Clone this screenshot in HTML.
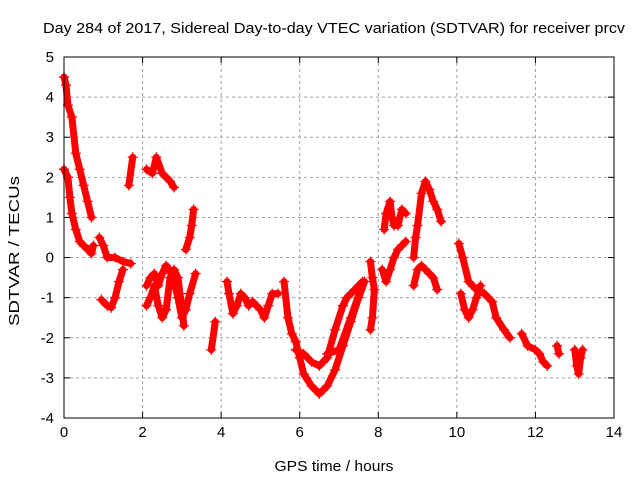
<!DOCTYPE html>
<html><head><meta charset="utf-8">
<style>
body{margin:0;background:#fff;}
svg{display:block;font-family:"Liberation Sans",sans-serif;}
</style></head>
<body>
<svg id="chart" width="640" height="480" viewBox="0 0 640 480">
<text x="334" y="33" font-size="15" text-anchor="middle" textLength="582" lengthAdjust="spacingAndGlyphs">Day 284 of 2017, Sidereal Day-to-day VTEC variation (SDTVAR) for receiver prcv</text>
<text x="334" y="471" font-size="15" text-anchor="middle" textLength="119" lengthAdjust="spacingAndGlyphs">GPS time / hours</text>
<text x="19" y="251" font-size="15" text-anchor="middle" textLength="150" lengthAdjust="spacingAndGlyphs" transform="rotate(-90 19 251)">SDTVAR / TECUs</text>
<g id="grid"></g><g id="ticks"></g><g id="marks"></g>
<rect x="64" y="57" width="550" height="361" fill="none" stroke="#000" stroke-width="1"/>
</svg>
<script>
const xTicks=[0,2,4,6,8,10,12,14];
const yTicks=[-4,-3,-2,-1,0,1,2,3,4,5];
const track1=[[0,4.5],[0.05,4.3],[0.1,3.8],[0.2,3.5],[0.3,2.6],[0.4,2.2],[0.5,1.8],[0.6,1.4],[0.7,1.0]];
const track2=[[0,2.2],[0.1,2.0],[0.15,1.5],[0.2,1.1],[0.3,0.7],[0.4,0.4],[0.5,0.3],[0.6,0.2],[0.7,0.1],[0.75,0.3]];
const track3=[[0.9,0.5],[1.0,0.3],[1.1,0.0],[1.3,0.0],[1.5,-0.1],[1.7,-0.15]];
const track4=[[0.95,-1.05],[1.1,-1.2],[1.2,-1.25],[1.3,-1.0],[1.4,-0.6],[1.5,-0.3]];
const track5=[[1.65,1.8],[1.75,2.5]];
const track6=[[2.1,2.2],[2.25,2.1],[2.35,2.5],[2.5,2.1],[2.7,1.9],[2.8,1.75]];
const track7=[[2.1,-0.7],[2.2,-0.5],[2.3,-0.4],[2.4,-0.7],[2.5,-0.4],[2.6,-0.2],[2.75,-0.4],[2.9,-1.0],[3.0,-1.5],[3.1,-1.3],[3.2,-0.9],[3.35,-0.4]];
const track8=[[2.1,-1.2],[2.2,-1.0],[2.3,-0.7],[2.4,-1.2],[2.5,-1.5],[2.6,-1.3],[2.7,-0.5],[2.8,-0.3],[2.9,-0.5],[2.95,-0.9],[3.0,-1.2],[3.05,-1.7]];
const track9=[[3.1,0.2],[3.2,0.5],[3.25,0.8],[3.3,1.2]];
const track10=[[3.75,-2.3],[3.85,-1.6]];
const track11=[[4.15,-0.6],[4.2,-0.9],[4.3,-1.4],[4.4,-1.2],[4.5,-0.9],[4.6,-1.0],[4.7,-1.2],[4.8,-1.1],[5.0,-1.3],[5.1,-1.5],[5.2,-1.2],[5.3,-0.9],[5.45,-0.9]];
const track12=[[5.6,-0.6],[5.7,-1.5],[5.8,-1.9],[5.9,-2.1],[6.0,-2.5],[6.1,-2.9],[6.3,-3.2],[6.5,-3.4],[6.7,-3.2],[6.9,-2.8],[7.1,-2.2],[7.3,-1.6],[7.5,-1.0],[7.65,-0.6]];
const track13=[[5.9,-2.3],[6.1,-2.4],[6.3,-2.6],[6.5,-2.7],[6.7,-2.5],[6.9,-1.8],[7.1,-1.2],[7.2,-1.0],[7.4,-0.8],[7.6,-0.6]];
const track14=[[6.7,-2.4],[7.0,-2.3],[7.3,-1.5],[7.55,-0.8]];
const track15=[[7.8,-0.1],[7.85,-0.5],[7.9,-0.8],[7.85,-1.5],[7.8,-1.8]];
const track16=[[8.15,0.7],[8.2,1.1],[8.3,1.4],[8.35,1.0],[8.4,0.8],[8.5,0.8],[8.6,1.2],[8.7,1.1]];
const track17=[[8.1,-0.3],[8.2,-0.6],[8.3,-0.3],[8.4,0.0],[8.5,0.2],[8.6,0.3],[8.7,0.4]];
const track18=[[8.9,0.0],[8.95,0.5],[9.0,0.8],[9.1,1.6],[9.2,1.9],[9.3,1.7],[9.4,1.4],[9.5,1.2],[9.6,0.9]];
const track19=[[8.9,-0.7],[9.0,-0.3],[9.1,-0.2],[9.2,-0.3],[9.3,-0.4],[9.4,-0.5],[9.5,-0.8]];
const track20=[[10.05,0.35],[10.15,0.0],[10.3,-0.6],[10.5,-0.8],[10.7,-0.9],[10.9,-1.1],[11.0,-1.5],[11.2,-1.8],[11.35,-2.0]];
const track21=[[10.1,-0.9],[10.2,-1.3],[10.3,-1.5],[10.4,-1.3],[10.5,-1.0],[10.6,-0.7]];
const track22=[[11.65,-1.9],[11.8,-2.2],[12.0,-2.3],[12.1,-2.4],[12.2,-2.6],[12.3,-2.7]];
const track23=[[12.55,-2.2],[12.6,-2.4]];
const track24=[[13.0,-2.3],[13.05,-2.7],[13.1,-2.9],[13.15,-2.5],[13.2,-2.3]];
const tracks=[track1,track2,track3,track4,track5,track6,track7,track8,track9,track10,track11,track12,track13,track14,track15,track16,track17,track18,track19,track20,track21,track22,track23,track24];

const NS="http://www.w3.org/2000/svg";
const X0=64,X1=614,Y0=418,Y1=57,xMin=0,xMax=14,yMin=-4,yMax=5;
function sx(t){return X0+(t-xMin)/(xMax-xMin)*(X1-X0);}
function sy(v){return Y0-(v-yMin)/(yMax-yMin)*(Y0-Y1);}
function mk(tag,attrs,parent){const e=document.createElementNS(NS,tag);for(const k in attrs)e.setAttribute(k,attrs[k]);parent.appendChild(e);return e;}
const grid=document.getElementById('grid'),ticks=document.getElementById('ticks'),marks=document.getElementById('marks');
xTicks.forEach(t=>{
  const x=sx(t);
  if(t>xMin&&t<xMax){const g=mk('line',{x1:x,y1:Y1,x2:x,y2:Y0,stroke:'#a0a0a0','stroke-dasharray':'3,3'},grid);
  
  }
  mk('line',{x1:x,y1:Y0,x2:x,y2:Y0-6,stroke:'#000'},ticks);
  mk('line',{x1:x,y1:Y1,x2:x,y2:Y1+6,stroke:'#000'},ticks);
  const l=mk('text',{x:x,y:Y0+19,'font-size':15,'text-anchor':'middle'},ticks);l.textContent=t;
  
  
});
yTicks.forEach(v=>{
  const y=sy(v);
  if(v>yMin&&v<yMax){const g=mk('line',{x1:X0,y1:y,x2:X1,y2:y,stroke:'#a0a0a0','stroke-dasharray':'3,3'},grid);
  
  }
  mk('line',{x1:X0,y1:y,x2:X0+6,y2:y,stroke:'#000'},ticks);
  mk('line',{x1:X1,y1:y,x2:X1-6,y2:y,stroke:'#000'},ticks);
  const l=mk('text',{x:X0-10,y:y+5,'font-size':15,'text-anchor':'end'},ticks);l.textContent=v;
  
  
});
tracks.forEach(tr=>{
  const p=mk('polyline',{points:tr.map(d=>sx(d[0])+','+sy(d[1])).join(' '),fill:'none',stroke:'#ff0000','stroke-width':7,'stroke-linejoin':'round','stroke-linecap':'round'},marks);
  
  
  tr.forEach(d=>{
    const x=sx(d[0]),y=sy(d[1]);
    const m=mk('path',{d:`M${x-5},${y}H${x+5}M${x},${y-5}V${y+5}`,stroke:'#ff0000','stroke-width':1.3},marks);
    
    
  });
});
</script>
</body></html>
